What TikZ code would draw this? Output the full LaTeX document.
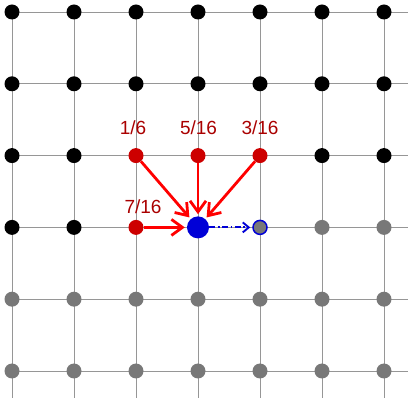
\documentclass[tikz,border=0pt]{standalone}
\usepackage{fontspec}
\setmainfont{Liberation Sans}
\usetikzlibrary{arrows.meta}
\definecolor{gridc}{RGB}{150,150,150}
\definecolor{dotgray}{RGB}{120,120,120}
\definecolor{dotred}{RGB}{205,0,0}
\definecolor{labred}{RGB}{170,0,0}
\definecolor{arrred}{RGB}{255,0,0}
\definecolor{dotblue}{RGB}{0,0,215}
\tikzset{
  gridline/.style={draw=gridc, line width=0.9pt},
  blackdot/.style={circle, fill=black, inner sep=0pt, minimum size=15pt},
  graydot/.style={circle, fill=dotgray, inner sep=0pt, minimum size=15pt},
  reddot/.style={circle, fill=dotred, inner sep=0pt, minimum size=15pt},
  bluedot/.style={circle, fill=dotblue, inner sep=0pt, minimum size=22pt},
  nextdot/.style={circle, fill=dotgray, draw=dotblue, line width=1.5pt, inner sep=0pt, minimum size=14pt},
  weight/.style={text=labred, font=\fontsize{19}{21}\selectfont, inner sep=0pt},
  redarrow/.style={draw=arrred, line width=2.8pt, -{Straight Barb[length=11pt,width=16pt,line width=2.8pt]}, shorten >=2pt},
  bluearrow/.style={draw=dotblue, line width=1.9pt, dash pattern=on 6pt off 2.5pt on 1.8pt off 2.5pt, -{Straight Barb[length=6pt,width=10pt,line width=1.9pt]}, shorten >=2pt}
}
\begin{document}
\begin{tikzpicture}[x=1pt,y=-1pt]
\useasboundingbox (0,0) rectangle (408,398);
\fill[white] (0,0) rectangle (408,398);
\foreach \r in {0,...,5} \draw[gridline] (12,{12+71.8*\r}) -- (408,{12+71.8*\r});
\foreach \c in {0,...,6} \draw[gridline] ({12+62*\c},12) -- ({12+62*\c},398);
% black dots
\foreach \r in {0,1} \foreach \c in {0,...,6}
  \node[blackdot] (p-\c-\r) at ({12+62*\c},{12+71.8*\r}) {};
\foreach \c in {0,1,5,6}
  \node[blackdot] (p-\c-2) at ({12+62*\c},{12+71.8*2}) {};
\foreach \c in {0,1}
  \node[blackdot] (p-\c-3) at ({12+62*\c},{12+71.8*3}) {};
% gray dots
\foreach \c in {5,6}
  \node[graydot] (p-\c-3) at ({12+62*\c},{12+71.8*3}) {};
\foreach \r in {4,5} \foreach \c in {0,...,6}
  \node[graydot] (p-\c-\r) at ({12+62*\c},{12+71.8*\r}) {};
% neighbours
\node[reddot] (p-2-2) at (136,155.6) {};
\node[reddot] (p-3-2) at (198,155.6) {};
\node[reddot] (p-4-2) at (260,155.6) {};
\node[reddot] (p-2-3) at (136,227.4) {};
\node[bluedot] (p-3-3) at (198,227.4) {};
\node[nextdot] (p-4-3) at (260,227.4) {};
% weights
\node[weight] (w1) at (133,128) {1/6};
\node[weight] (w5) at (198.5,128) {5/16};
\node[weight] (w3) at (260,128) {3/16};
\node[weight] (w7) at (143,207) {7/16};
% arrows
\draw[redarrow] (p-2-2) -- (p-3-3);
\draw[redarrow] (p-3-2) -- (p-3-3);
\draw[redarrow] (p-4-2) -- (p-3-3);
\draw[redarrow] (p-2-3) -- (p-3-3);
\draw[bluearrow] (p-3-3) -- (p-4-3);
\end{tikzpicture}
\end{document}
